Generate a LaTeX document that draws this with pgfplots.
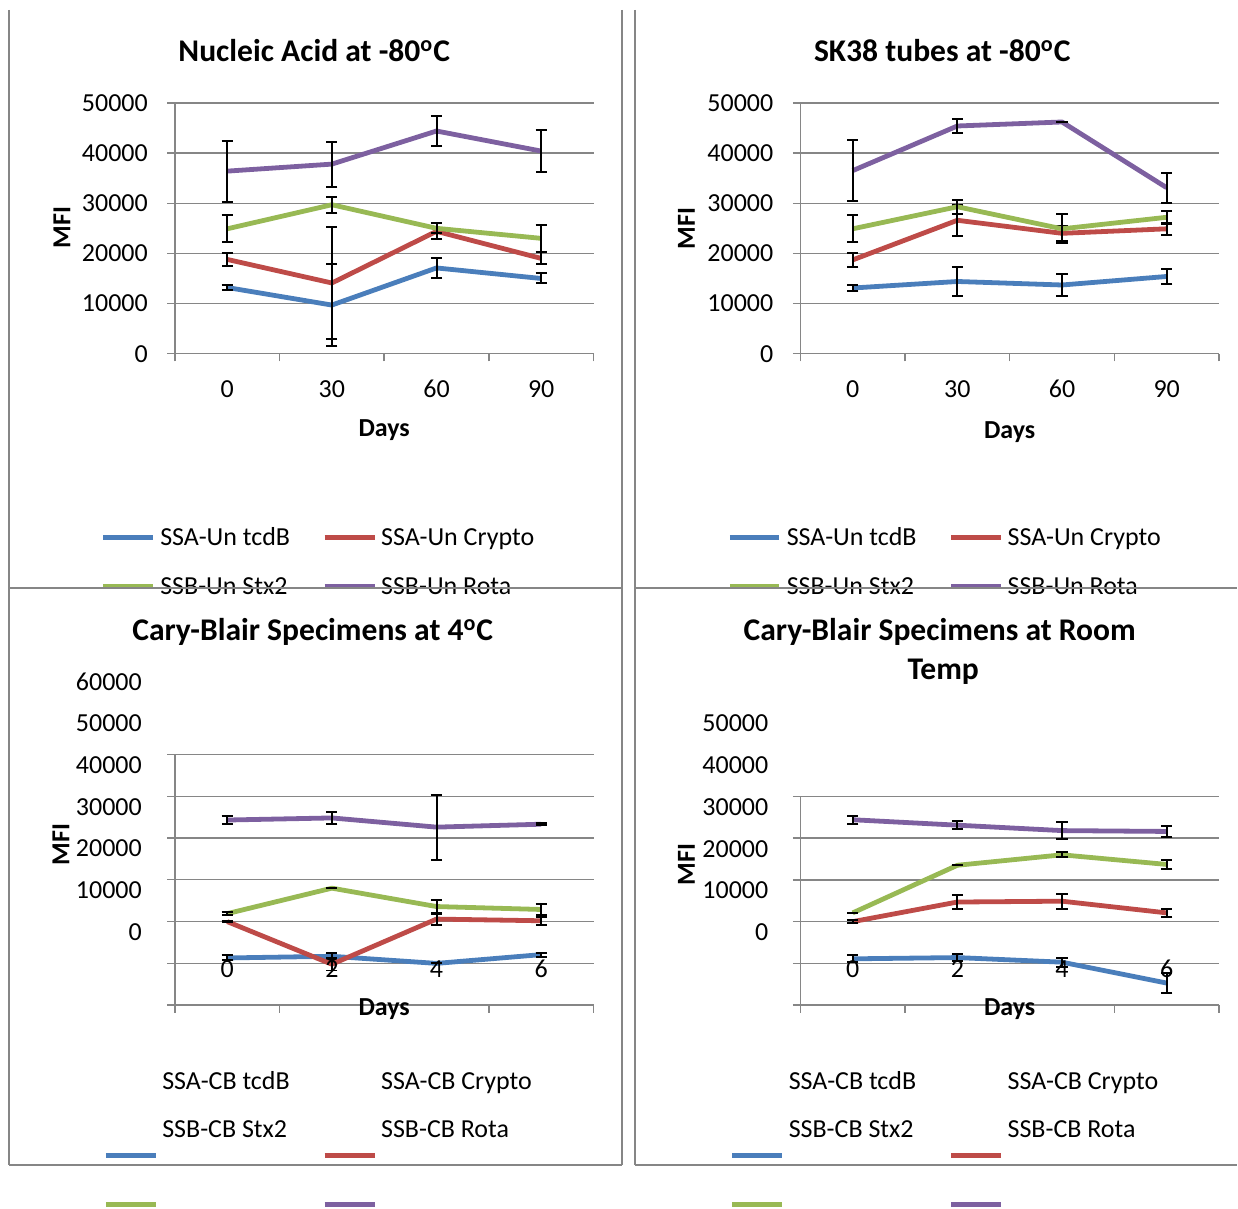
\documentclass[border=0pt]{standalone}
\usepackage{fontspec}
\setmainfont{Carlito}
\usepackage{pgfplots}
\pgfplotsset{compat=1.18}

\definecolor{sblue}{RGB}{74,126,187}
\definecolor{sred}{RGB}{190,75,72}
\definecolor{sgreen}{RGB}{152,185,84}
\definecolor{spurple}{RGB}{125,96,160}
\definecolor{gridc}{RGB}{134,134,134}

\newcommand\tk{\fontsize{13}{15}\selectfont}
\newcommand\ttl{\fontsize{15.8}{19}\selectfont\bfseries}
\newcommand\dg{\textsuperscript{o}}

\pgfplotsset{
  panel/.style={
    scale only axis, width=209.5pt,
    axis lines=left, axis line style={gridc, line width=0.7pt, -},
    xmin=0, xmax=4, scaled y ticks=false, scaled x ticks=false,
    ymajorgrids, grid style={gridc, line width=0.7pt},
    tick align=outside, major tick length=3.8pt, minor tick length=3.8pt,
    every tick/.style={gridc, line width=0.7pt},
    xtick={0.5,1.5,2.5,3.5}, major x tick style={draw=none},
    minor xtick={0,1,2,3,4},
    tick label style={font=\tk},
    clip=false,
  },
  ser/.style={color=#1, line width=2.4pt, line join=round, mark=none,
    /pgfplots/error bars/y dir=both, /pgfplots/error bars/y explicit,
    /pgfplots/error bars/error bar style={black, line width=1pt},
    /pgfplots/error bars/error mark options={rotate=90, mark size=2.8pt, black, line width=1pt}},
  toppanel/.style={panel, height=125.5pt, ymin=0, ymax=50000,
    ytick={0,10000,...,50000}, yticklabels={0,10000,20000,30000,40000,50000},
    yticklabel style={xshift=-6.2pt},
    xticklabels={0,30,60,90}, xticklabel style={yshift=-6pt}},
  botpanel/.style={panel, xticklabels={}, yticklabels={}},
}

\begin{document}
\begin{tikzpicture}
\begin{scope}[x=0.5pt,y=-0.5pt]
\useasboundingbox (0,0) rectangle (1238,1209);
\end{scope}

% ---------- top left
\begin{axis}[toppanel, at={(87.5pt,-177pt)}, anchor=south west]
\addplot[ser=sblue] coordinates {(0.5,13200) +- (0,500) (1.5,9700) +- (0,8200) (2.5,17100) +- (0,2000) (3.5,15000) +- (0,1000)};
\addplot[ser=sred] coordinates {(0.5,18800) +- (0,1300) (1.5,14100) +- (0,11200) (2.5,24400) +- (0,1600) (3.5,19000) +- (0,1200)};
\addplot[ser=sgreen] coordinates {(0.5,24900) +- (0,2700) (1.5,29700) +- (0,1600) (2.5,25000) +- (0,1000) (3.5,23000) +- (0,2700)};
\addplot[ser=spurple] coordinates {(0.5,36400) +- (0,6100) (1.5,37800) +- (0,4500) (2.5,44400) +- (0,2900) (3.5,40400) +- (0,4200)};
\end{axis}

% ---------- top right
\begin{axis}[toppanel, at={(400.5pt,-177pt)}, anchor=south west]
\addplot[ser=sblue] coordinates {(0.5,13100) +- (0,500) (1.5,14400) +- (0,2800) (2.5,13700) +- (0,2100) (3.5,15400) +- (0,1500)};
\addplot[ser=sred] coordinates {(0.5,18700) +- (0,1400) (1.5,26600) +- (0,3100) (2.5,24000) +- (0,1500) (3.5,24900) +- (0,1200)};
\addplot[ser=sgreen] coordinates {(0.5,24900) +- (0,2700) (1.5,29300) +- (0,1400) (2.5,24900) +- (0,2900) (3.5,27200) +- (0,1300)};
\addplot[ser=spurple] coordinates {(0.5,36500) +- (0,6100) (1.5,45400) +- (0,1400) (2.5,46200) +- (0,0) (3.5,33100) +- (0,3000)};
\end{axis}

% ---------- bottom left
\begin{axis}[botpanel, at={(87.5pt,-503pt)}, anchor=south west, height=125.5pt,
  ymin=-20000, ymax=40000, ytick={-20000,-10000,...,40000}]
\addplot[ser=sblue] coordinates {(0.5,-8700) +- (0,600) (1.5,-8300) +- (0,800) (2.5,-10000) +- (0,0) (3.5,-7900) +- (0,500)};
\addplot[ser=sred] coordinates {(0.5,0) +- (0,200) (1.5,-10200) +- (0,1500) (2.5,600) +- (0,1300) (3.5,200) +- (0,1000)};
\addplot[ser=sgreen] coordinates {(0.5,1900) +- (0,300) (1.5,8000) +- (0,0) (2.5,3600) +- (0,1500) (3.5,2900) +- (0,1300)};
\addplot[ser=spurple] coordinates {(0.5,24300) +- (0,900) (1.5,24800) +- (0,1400) (2.5,22600) +- (0,7800) (3.5,23300) +- (0,300)};
\foreach \v in {0,10000,20000,30000,40000,50000,60000}{
  \edef\tmp{\noexpand\node[anchor=east,font=\noexpand\tk,xshift=-13pt] at (axis cs:0,\v-2540) {\v};}\tmp}
\node[anchor=base,font=\tk] at (axis cs:0.5,-13300) {0};
\node[anchor=base,font=\tk] at (axis cs:1.5,-13300) {2};
\node[anchor=base,font=\tk] at (axis cs:2.5,-13300) {4};
\node[anchor=base,font=\tk] at (axis cs:3.5,-13300) {6};
\end{axis}

% ---------- bottom right
\begin{axis}[botpanel, at={(400.5pt,-503pt)}, anchor=south west, height=104.5pt,
  ymin=-20000, ymax=30000, ytick={-20000,-10000,...,30000}]
\addplot[ser=sblue] coordinates {(0.5,-8900) +- (0,800) (1.5,-8600) +- (0,800) (2.5,-9700) +- (0,1100) (3.5,-14700) +- (0,2500)};
\addplot[ser=sred] coordinates {(0.5,0) +- (0,300) (1.5,4700) +- (0,1700) (2.5,4900) +- (0,1800) (3.5,2100) +- (0,1000)};
\addplot[ser=sgreen] coordinates {(0.5,2100) +- (0,0) (1.5,13500) +- (0,0) (2.5,16000) +- (0,600) (3.5,13700) +- (0,1100)};
\addplot[ser=spurple] coordinates {(0.5,24400) +- (0,900) (1.5,23100) +- (0,1000) (2.5,21800) +- (0,2000) (3.5,21600) +- (0,1300)};
\foreach \v in {0,10000,20000,30000,40000,50000}{
  \edef\tmp{\noexpand\node[anchor=east,font=\noexpand\tk,xshift=-12.5pt] at (axis cs:0,\v-2540) {\v};}\tmp}
\node[anchor=base,font=\tk] at (axis cs:0.5,-13300) {0};
\node[anchor=base,font=\tk] at (axis cs:1.5,-13300) {2};
\node[anchor=base,font=\tk] at (axis cs:2.5,-13300) {4};
\node[anchor=base,font=\tk] at (axis cs:3.5,-13300) {6};
\end{axis}

\begin{scope}[x=0.5pt,y=-0.5pt]
% titles
\node[anchor=base,font=\ttl] at (314.5,62) {Nucleic Acid at -80\dg C};
\node[anchor=base,font=\ttl] at (943,62) {SK38 tubes at -80\dg C};
\node[anchor=base,font=\ttl] at (313,641) {Cary-Blair Specimens at 4\dg C};
\node[anchor=base,font=\ttl] at (940.5,641) {Cary-Blair Specimens at Room};
\node[anchor=base,font=\ttl] at (944,680) {Temp};
% axis titles
\foreach \x/\y in {62/228,687/229,61/845,687/865}
  \node[rotate=90,font=\tk\bfseries] at (\x,\y) {MFI};
\foreach \x/\y in {384.5/437,1010.5/439,384.5/1016,1010.5/1016}
  \node[anchor=base,font=\tk\bfseries] at (\x,\y) {Days};
% legend keys
\foreach \dx in {0,627}{
  \draw[sblue,line width=2.5pt] (103.5+\dx,538) -- (153+\dx,538);
  \draw[sred,line width=2.5pt] (325+\dx,538) -- (375+\dx,538);
  \draw[sgreen,line width=2.5pt] (103.5+\dx,587) -- (153+\dx,587);
  \draw[spurple,line width=2.5pt] (325+\dx,587) -- (375+\dx,587);
  \draw[sblue,line width=2.5pt] (106+\dx,1156) -- (156+\dx,1156);
  \draw[sred,line width=2.5pt] (325+\dx,1156) -- (375+\dx,1156);
  \draw[sgreen,line width=2.5pt] (106+\dx,1205) -- (156+\dx,1205);
  \draw[spurple,line width=2.5pt] (325+\dx,1205) -- (375+\dx,1205);
}
% legend texts
\foreach \dx in {0,627}{
  \node[anchor=base west,font=\tk,inner sep=0pt] at (160+\dx,546) {SSA-Un tcdB};
  \node[anchor=base west,font=\tk,inner sep=0pt] at (381+\dx,546) {SSA-Un Crypto};
  \node[anchor=base west,font=\tk,inner sep=0pt] at (160+\dx,595) {SSB-Un Stx2};
  \node[anchor=base west,font=\tk,inner sep=0pt] at (381+\dx,595) {SSB-Un Rota};
  \node[anchor=base west,font=\tk,inner sep=0pt] at (162+\dx,1090) {SSA-CB tcdB};
  \node[anchor=base west,font=\tk,inner sep=0pt] at (381+\dx,1090) {SSA-CB Crypto};
  \node[anchor=base west,font=\tk,inner sep=0pt] at (162+\dx,1138) {SSB-CB Stx2};
  \node[anchor=base west,font=\tk,inner sep=0pt] at (381+\dx,1138) {SSB-CB Rota};
}
% chart borders
\draw[gridc,line width=1pt] (9,10) -- (9,1166) (622,10) -- (622,1166) (636,10) -- (636,1166)
  (9,588) -- (622,588) (636,588) -- (1238,588) (9,1166) -- (622,1166) (636,1166) -- (1238,1166);
\end{scope}
\end{tikzpicture}
\end{document}
